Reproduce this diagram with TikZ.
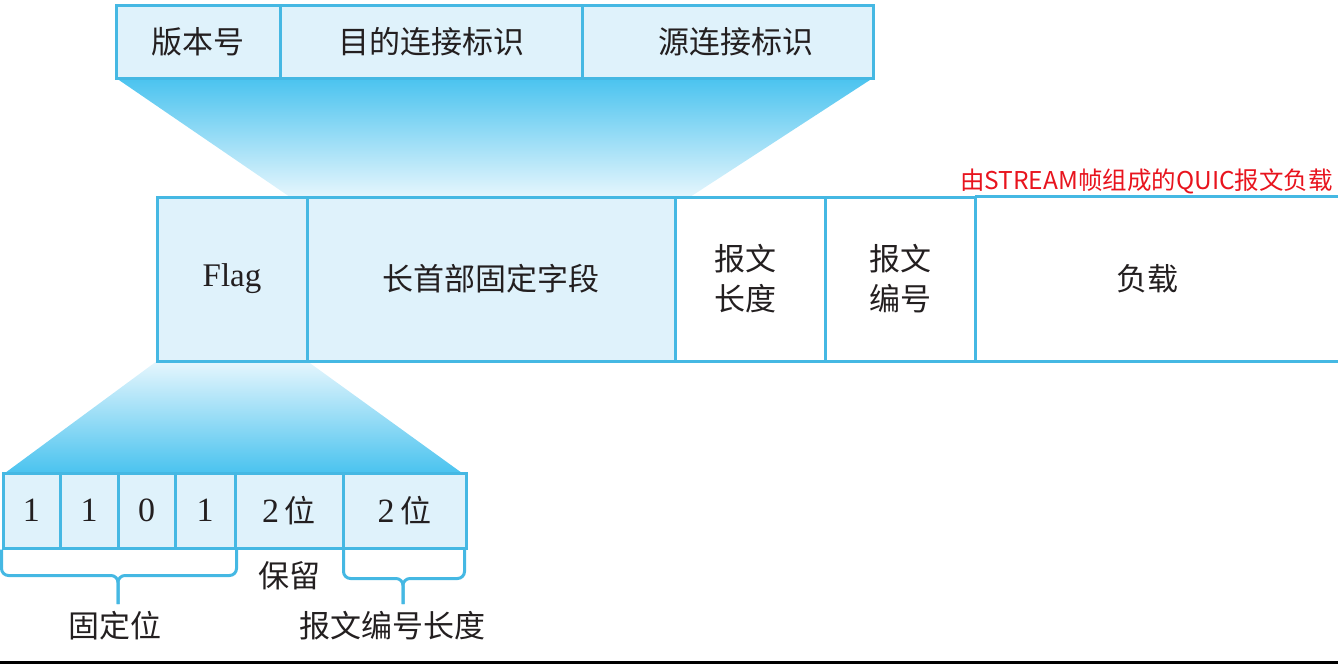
\documentclass[tikz,border=0pt]{standalone}
\usepackage{fontspec}
\setmainfont{Liberation Serif}
\newfontfamily\cjk{Noto Sans CJK SC}
\usetikzlibrary{positioning}
\definecolor{bline}{HTML}{45B8E3}
\definecolor{bfill}{HTML}{DFF2FB}
\definecolor{bdark}{HTML}{4AC3EF}
\definecolor{blight}{HTML}{E6F6FD}
\definecolor{txt}{HTML}{231F20}
\definecolor{redtxt}{HTML}{E8141E}
\tikzset{
  cell/.style={draw=bline, line width=3pt, fill=bfill, inner sep=0pt, text=txt, font=\cjk\fontsize{31}{34}\selectfont, align=center},
  wcell/.style={cell, fill=white},
  bare/.style={inner sep=0pt, text=txt, font=\cjk\fontsize{31}{34}\selectfont, align=center},
  brace/.style={draw=bline, line width=3pt, rounded corners=7pt},
  numf/.style={font=\fontsize{34}{36}\selectfont}
}
\begin{document}
\begin{tikzpicture}[x=1pt,y=-1pt]
\useasboundingbox (0,0) rectangle (1338,665);
% gradients
\shade[top color=bdark, bottom color=blight] (116,78) -- (873,78) -- (690,197) -- (290,197) -- cycle;
\shade[top color=blight, bottom color=bdark] (157,361) -- (307,361) -- (462,473) -- (5,473) -- cycle;
% top row
\node[cell, minimum width=164pt, minimum height=73pt] (ver) at (198,41.5) {版本号};
\node[cell, minimum width=302pt, minimum height=73pt] (dcid) at (431,41.5) {目的连接标识};
\node[cell, minimum width=291pt, minimum height=73pt] (scid) at (727.5,41.5) {\hspace*{16pt}源连接标识};
% middle row
\node[cell, minimum width=150pt, minimum height=164pt] (flag) at (232,279) {\rmfamily\fontsize{33}{36}\selectfont Flag};
\node[cell, minimum width=368pt, minimum height=164pt] (lhf) at (491,279) {长首部固定字段};
\node[wcell, minimum width=150pt, minimum height=164pt] (plen) at (750,279) {\hspace*{-10pt}报文\\[6pt]\hspace*{-10pt}长度};
\node[wcell, minimum width=150pt, minimum height=164pt] (pnum) at (900,279) {报文\\[6pt]编号};
\node[bare, minimum width=363pt, minimum height=164pt] (pay) at (1156.5,279) {\hspace*{-18pt}负载};
\draw[bline, line width=3pt] (pay.north west) -- (pay.north east) (pay.south west) -- (pay.south east);
\node[anchor=base east, inner sep=0pt, text=redtxt, font=\cjk\fontsize{24.5}{26}\selectfont] (red) at (1333,189) {由STREAM帧组成的QUIC报文负载};
% bottom row
\node[cell, numf, minimum width=57pt, minimum height=75pt] (b1) at (31.5,510.5) {1};
\node[cell, numf, minimum width=58pt, minimum height=75pt] (b2) at (89,510.5) {1};
\node[cell, numf, minimum width=57pt, minimum height=75pt] (b3) at (146.5,510.5) {0};
\node[cell, numf, minimum width=60pt, minimum height=75pt] (b4) at (205,510.5) {1};
\node[cell, minimum width=108pt, minimum height=75pt] (rsv) at (289,510.5) {\rmfamily\fontsize{34}{36}\selectfont 2\,\cjk\fontsize{31}{34}\selectfont 位};
\node[cell, minimum width=123pt, minimum height=75pt] (pnl) at (404.5,510.5) {\rmfamily\fontsize{34}{36}\selectfont 2\,\cjk\fontsize{31}{34}\selectfont 位};
% braces
\coordinate (t1) at (118,604);
\coordinate (t2) at (403,604);
\draw[brace] (b1.south west) -- ++(0,26) -| (t1);
\draw[brace] (b4.south east) -- ++(0,26) -| (t1);
\draw[brace] ([xshift=2pt]pnl.south west) -- ++(0,29) -| (t2);
\draw[brace] ([xshift=-3pt]pnl.south east) -- ++(0,29) -| (t2);
% labels
\node[bare] (lres) at (289,576) {保留};
\node[bare] (lfix) at (115,626) {固定位};
\node[bare] (lpnl) at (392,626) {报文编号长度};
% bottom rule
\draw[black, line width=3pt] (0,662) -- (1338,662);
\end{tikzpicture}
\end{document}
